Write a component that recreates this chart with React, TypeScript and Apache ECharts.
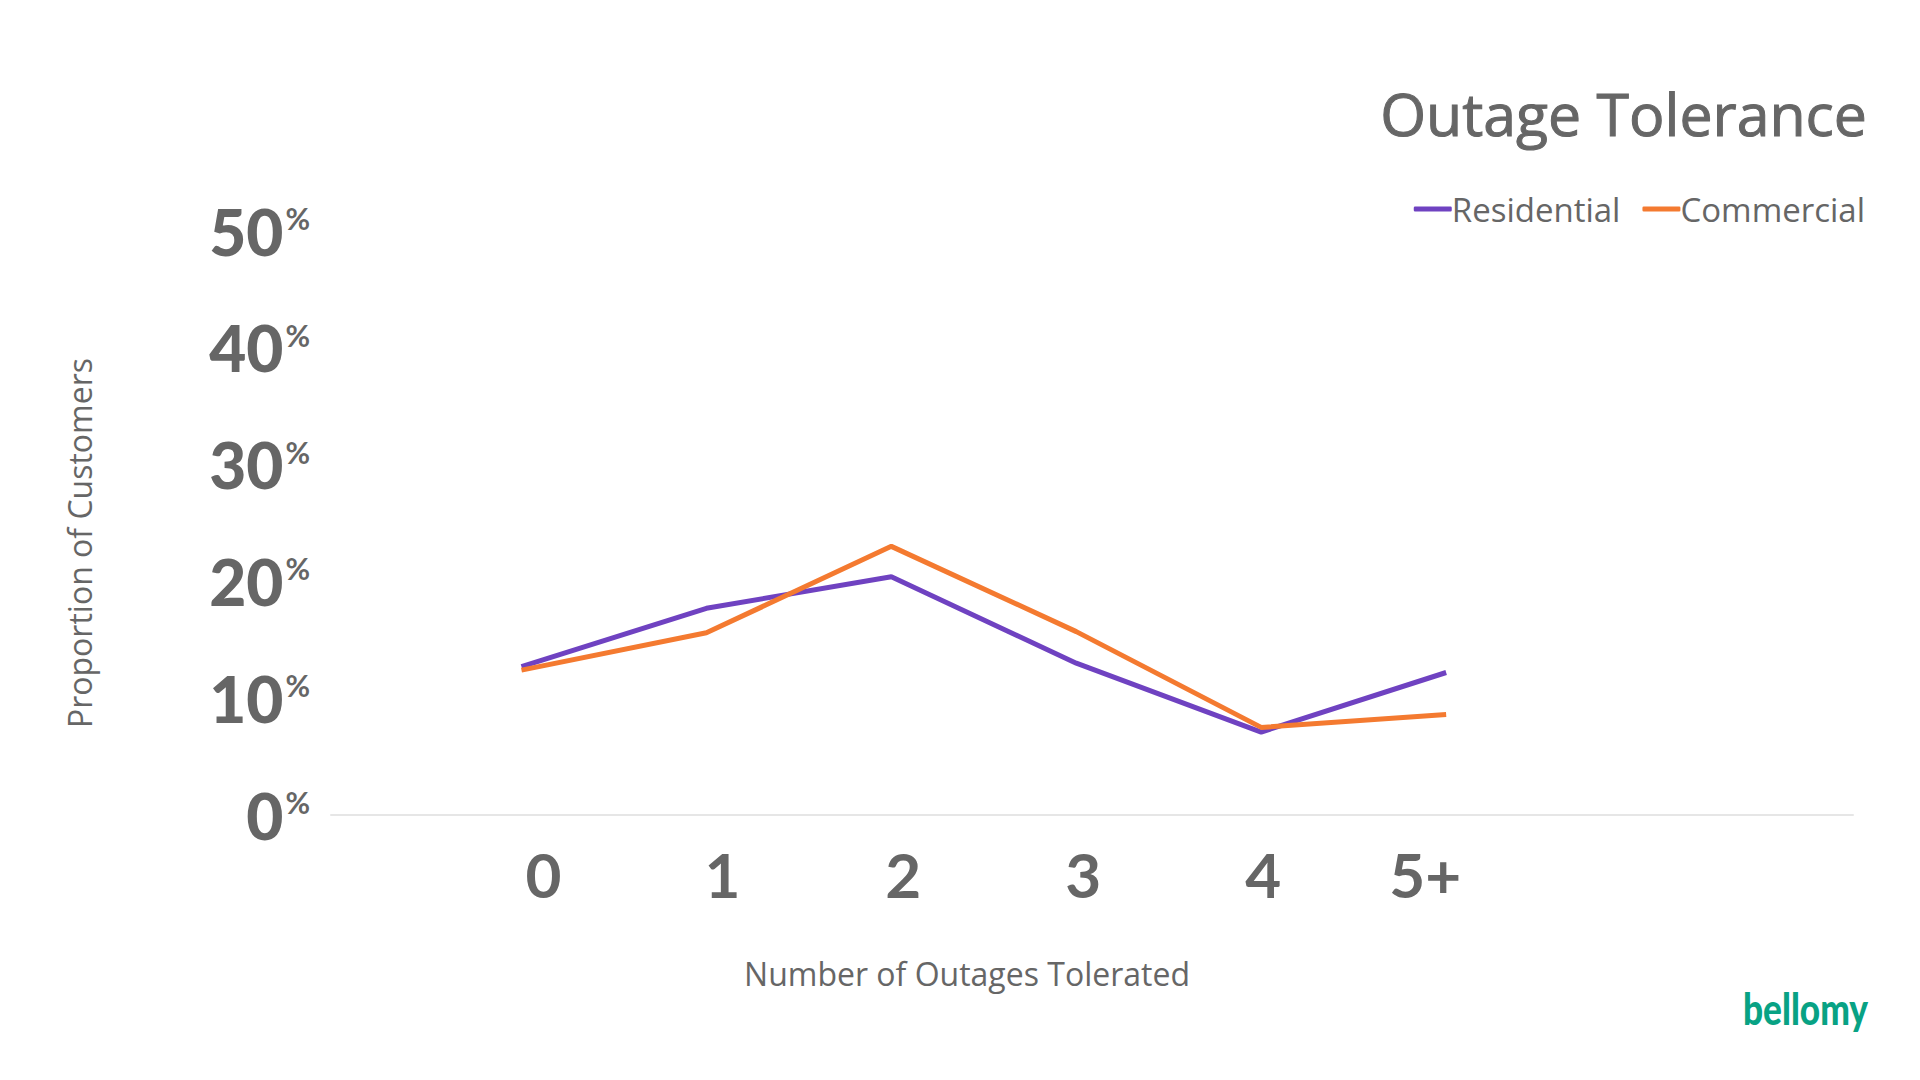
import React, { useEffect, useRef } from "react";
import * as echarts from "echarts";

const xCategories = ["0", "1", "2", "3", "4", "5+"];
const xPositions = [0, 1, 2, 3, 4, 5];
const residential = [12.7, 17.7, 20.4, 13.0, 7.1, 12.2];
const commercial = [12.4, 15.6, 23.0, 15.7, 7.5, 8.6];
const seriesNames = ["Residential", "Commercial"];
const seriesColors = ["#6F42C1", "#F47A30"];

const GREY = "#666666";
const SANS = "'Open Sans', 'Noto Sans', sans-serif";
const BOLD = "Lato, 'Open Sans', sans-serif";

// per-label horizontal nudges (padding) to mimic the slide's text boxes
const xLabelPads: number[][] = [
  [0, 0, 0, 44],
  [0, 0, 0, 32],
  [0, 0, 0, 24],
  [0, 0, 0, 14],
  [0, 0, 0, 4],
  [0, 42, 0, 0],
];

export default function App() {
  const ref = useRef<HTMLDivElement>(null);

  useEffect(() => {
    if (!ref.current) return;
    const chart = echarts.init(ref.current, undefined, { renderer: "svg" });
    const xRich: any = {};
    xLabelPads.forEach((p, i) => {
      xRich["a" + i] = { fontFamily: BOLD, fontSize: 62, fontWeight: "bold", color: GREY, padding: p };
    });
    const option: any = {
      animation: false,
      backgroundColor: "#ffffff",
      title: {
        text: "Outage Tolerance",
        right: 47,
        top: 78,
        textStyle: {
          fontFamily: SANS,
          fontSize: 59,
          fontWeight: "normal",
          color: GREY,
          textBorderColor: GREY,
          textBorderWidth: 1,
        },
      },
      legend: {
        right: 50,
        top: 186,
        icon: "roundRect",
        itemWidth: 38,
        itemHeight: 5,
        itemGap: 22,
        data: seriesNames,
        textStyle: { fontFamily: SANS, fontSize: 33, color: GREY, padding: [0, 0, 0, -5], lineHeight: 36 },
      },
      grid: {
        left: 331,
        right: 67,
        top: 231,
        bottom: 265,
        containLabel: false,
        outerBoundsMode: "none",
      },
      xAxis: {
        type: "value",
        min: -1.03,
        max: 7.2,
        name: "Number of Outages Tolerated",
        nameLocation: "middle",
        nameGap: 142,
        nameTextStyle: { fontFamily: SANS, fontSize: 32, color: GREY, padding: [0, 250, 0, 0] },
        axisLine: { show: true, lineStyle: { color: "#e6e6e6", width: 2 } },
        axisTick: { show: false },
        splitLine: { show: false },
        axisLabel: {
          customValues: xPositions,
          margin: 28,
          formatter: (v: number) => {
            const i = Math.round(v);
            const t = xCategories[i] ?? "";
            return `{a${i}|${t}}`;
          },
          rich: xRich,
        },
      },
      yAxis: {
        type: "value",
        min: 0,
        max: 50,
        interval: 10,
        name: "Proportion of Customers",
        nameLocation: "middle",
        nameRotate: 90,
        nameGap: 236,
        nameTextStyle: { fontFamily: SANS, fontSize: 32, color: GREY, padding: [0, 40, 0, 0] },
        axisLine: { show: false },
        axisTick: { show: false },
        splitLine: { show: false },
        axisLabel: {
          margin: 21,
          formatter: (v: number) => `{v|${v}}{p|%}`,
          rich: {
            v: { fontFamily: BOLD, fontSize: 64, fontWeight: 900, color: GREY, lineHeight: 68 },
            p: { fontFamily: BOLD, fontSize: 30, fontWeight: "bold", color: GREY, lineHeight: 30, padding: [0, 0, 26, 2] },
          },
        },
      },
      series: [
        {
          name: seriesNames[0],
          type: "line",
          data: xPositions.map((x, i) => [x, residential[i]]),
          symbol: "none",
          color: seriesColors[0],
          lineStyle: { width: 5, color: seriesColors[0] },
        },
        {
          name: seriesNames[1],
          type: "line",
          data: xPositions.map((x, i) => [x, commercial[i]]),
          symbol: "none",
          color: seriesColors[1],
          lineStyle: { width: 5, color: seriesColors[1] },
        },
      ],
      graphic: [
        {
          type: "text",
          x: 1743,
          y: 986,
          scaleX: 0.8,
          style: {
            text: "bellomy",
            fontFamily: "Lato, sans-serif",
            fontWeight: 900,
            fontSize: 44,
            fill: "#08A284",
            verticalAlign: "top",
          },
        },
      ],
    };
    chart.setOption(option);
    return () => chart.dispose();
  }, []);

  return (
    <div
      ref={ref}
      style={{ position: "absolute", left: 0, top: 0, width: 1920, height: 1080, background: "#fff" }}
    />
  );
}
